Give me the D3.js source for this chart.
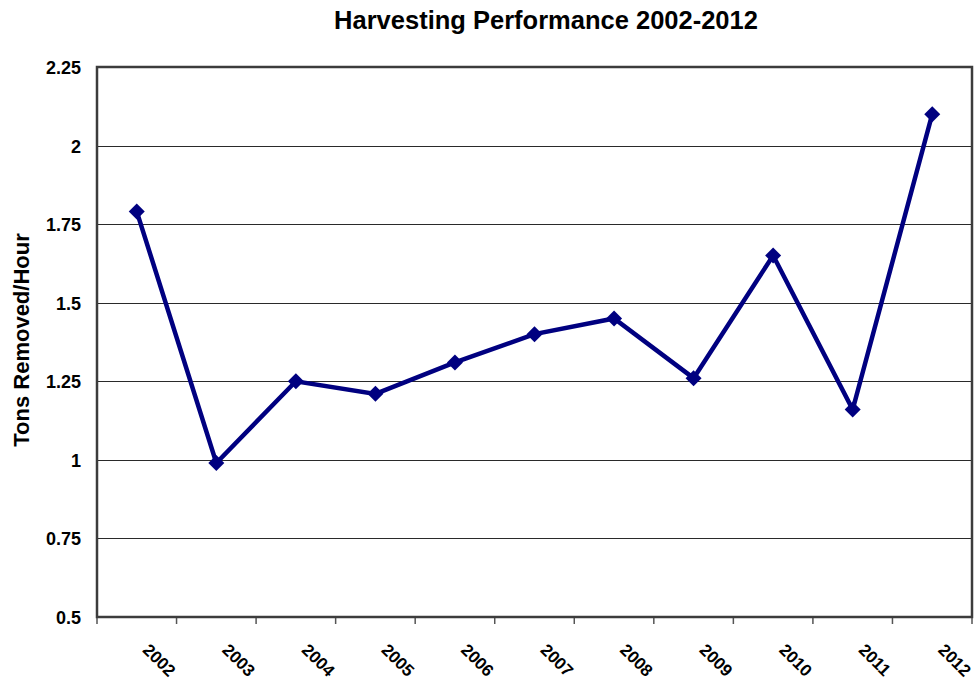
<!DOCTYPE html>
<html>
<head>
<meta charset="utf-8">
<script src="https://cdn.jsdelivr.net/npm/d3@7"></script>
<style>
  html, body { margin: 0; padding: 0; background: #fff; }
  svg { display: block; font-family: Arial, "Liberation Sans", sans-serif; }
</style>
</head>
<body>
<svg id="chart" width="977" height="682"></svg>
<script>
// Harvesting rate per season, tons removed per hour
const years = ["2002", "2003", "2004", "2005", "2006", "2007", "2008", "2009", "2010", "2011", "2012"];
const tonsPerHour = [1.79, 0.99, 1.25, 1.21, 1.31, 1.40, 1.45, 1.26, 1.65, 1.16, 2.10];
const yTicks = [0.5, 0.75, 1, 1.25, 1.5, 1.75, 2, 2.25];
const yTickLabels = ["0.5", "0.75", "1", "1.25", "1.5", "1.75", "2", "2.25"];

const W = 977, H = 682;
const margin = { left: 97, right: 5, top: 67, bottom: 65 };
const innerW = W - margin.left - margin.right;
const innerH = H - margin.top - margin.bottom;

const svg = d3.select("#chart");

const x = d3.scaleBand().domain(years).range([0, innerW]).padding(0);
const y = d3.scaleLinear().domain([0.5, 2.25]).range([innerH, 0]);

const g = svg.append("g").attr("transform", `translate(${margin.left},${margin.top})`);

// Title
svg.append("text")
  .attr("x", 546).attr("y", 29)
  .attr("text-anchor", "middle")
  .attr("font-size", 25.5).attr("font-weight", "bold")
  .attr("fill", "#000")
  .text("Harvesting Performance 2002-2012");

// Horizontal gridlines
g.append("g").selectAll("line")
  .data(yTicks.slice(1, -1))
  .join("line")
  .attr("x1", 0).attr("x2", innerW)
  .attr("y1", d => Math.round(y(d)) + 0.5).attr("y2", d => Math.round(y(d)) + 0.5)
  .attr("stroke", "#2a2a2a").attr("stroke-width", 1);

// Y axis labels
const yAxis = d3.axisLeft(y).tickValues(yTicks)
  .tickFormat((d, i) => yTickLabels[i]).tickSize(0).tickPadding(16);
const yg = g.append("g").call(yAxis);
yg.select(".domain").remove();
yg.selectAll("text")
  .attr("font-size", 18).attr("font-weight", "bold")
  .attr("font-family", "Arial, 'Liberation Sans', sans-serif")
  .attr("fill", "#000").attr("dy", "0.36em");

// X axis: ticks at category boundaries, rotated labels
const xg = g.append("g").attr("transform", `translate(0,${innerH})`);
const boundaries = years.map(d => x(d)).concat([innerW]);
xg.selectAll("line.tick")
  .data(boundaries)
  .join("line")
  .attr("class", "tick")
  .attr("x1", d => d).attr("x2", d => d)
  .attr("y1", 0).attr("y2", 7)
  .attr("stroke", "#555").attr("stroke-width", 1.5);
xg.selectAll("text")
  .data(years)
  .join("text")
  .attr("transform", d => `translate(${x(d) + x.bandwidth() / 2 + 5},34) rotate(45)`)
  .attr("text-anchor", "start")
  .attr("font-size", 17).attr("font-weight", "bold")
  .attr("fill", "#000")
  .text(d => d);

// Plot frame
g.append("rect")
  .attr("x", 0).attr("y", 0)
  .attr("width", innerW).attr("height", innerH)
  .attr("fill", "none")
  .attr("stroke", "#3c3c3c").attr("stroke-width", 2.5);

// Y axis title
svg.append("text")
  .attr("transform", "translate(29,340) rotate(-90)")
  .attr("text-anchor", "middle")
  .attr("font-size", 22).attr("font-weight", "bold")
  .attr("fill", "#000")
  .text("Tons Removed/Hour");

// Data line
const pts = years.map((d, i) => [x(d) + x.bandwidth() / 2, y(tonsPerHour[i])]);
g.append("path")
  .attr("d", d3.line()(pts))
  .attr("fill", "none")
  .attr("stroke", "#000080")
  .attr("stroke-width", 4.5)
  .attr("stroke-linejoin", "miter");

// Diamond markers
const diamond = d3.symbol().type(d3.symbolSquare).size(128);
g.selectAll("path.marker")
  .data(pts)
  .join("path")
  .attr("class", "marker")
  .attr("d", diamond)
  .attr("transform", d => `translate(${d[0]},${d[1]}) rotate(45)`)
  .attr("fill", "#000080");
</script>
</body>
</html>
